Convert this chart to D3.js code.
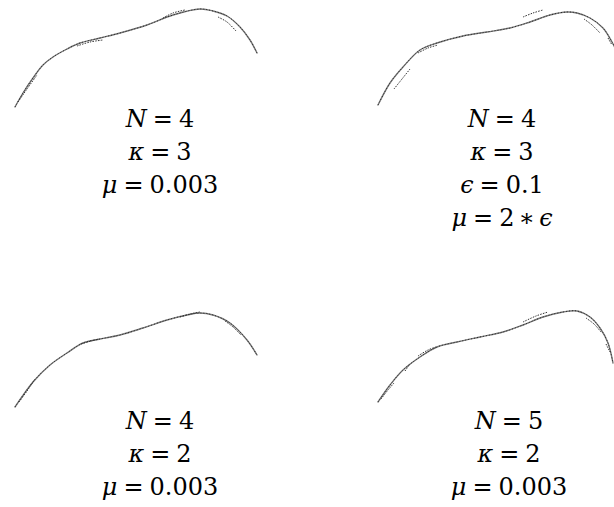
<!DOCTYPE html>
<html>
<head>
<meta charset="utf-8">
<script src="https://cdn.jsdelivr.net/npm/d3@7/dist/d3.min.js"></script>
<style>
  html, body { margin: 0; padding: 0; background: #fff; }
  svg { display: block; }
</style>
</head>
<body>
<svg id="chart" width="614" height="507"></svg>
<script>
// Trajectory traces, one per panel: [arc position, height]
const traceTL = [[0,0],[8,14],[18,29],[28,42],[38,50],[52,58],[65,64],[85,69],[105,74],[132,82],[158,92],[185,98],[198,96],[212,91],[225,80],[235,67],[242,54]];
const traceTR = [[0,0],[12,22],[25,38],[42,55],[59,62],[85,69],[109,73],[132,77],[152,83],[172,90],[189,93],[199,92],[212,87],[225,77],[234,63],[238,55]];
const traceBL = [[0,0],[18,25],[35,42],[52,54],[68,64],[85,68],[105,72],[128,79],[152,87],[172,92],[185,94],[198,92],[215,84],[232,67],[242,52]];
const traceBR = [[0,0],[12,17],[25,32],[42,45],[59,55],[79,60],[102,65],[125,70],[145,77],[165,85],[185,90],[199,91],[212,85],[222,74],[230,59],[235,39]];

// Secondary (repeated run) fragments lying next to each trace
const ghostsTL = [
  [[3,5],[12,18],[22,32]],
  [[62,61],[75,65],[88,67]],
  [[148,89],[158,94],[170,97]],
  [[203,90],[212,85],[221,76]]
];
const ghostsTR = [
  [[16,16],[24,26],[32,36]],
  [[40,52],[50,57],[60,60]],
  [[145,88],[155,92],[165,95]],
  [[206,86],[214,80],[222,72]],
  [[230,67],[234,60]]
];
const ghostsBL = [
  [[4,5],[12,16],[20,28]],
  [[66,63],[76,66],[84,68]],
  [[165,90],[175,93],[185,95]],
  [[210,86],[218,80],[226,72]]
];
const ghostsBR = [
  [[3,3],[10,12],[16,19]],
  [[27,31],[32,38]],
  [[40,46],[50,52],[58,55]],
  [[145,80],[158,86],[170,90]],
  [[208,84],[216,78],[223,70]],
  [[228,58],[232,50]]
];

// Parameter labels: each line is [symbol, right-hand side tokens]; token = [text, italic, gap]
const labelsTL = [
  ["N", [["4",0,1]]],
  ["κ", [["3",0,1]]],
  ["μ", [["0.003",0,1]]]
];
const labelsTR = [
  ["N", [["4",0,1]]],
  ["κ", [["3",0,1]]],
  ["ϵ", [["0.1",0,1]]],
  ["μ", [["2",0,1],["∗",0,0.7],["ϵ",1,0.7]]]
];
const labelsBL = [
  ["N", [["4",0,1]]],
  ["κ", [["2",0,1]]],
  ["μ", [["0.003",0,1]]]
];
const labelsBR = [
  ["N", [["5",0,1]]],
  ["κ", [["2",0,1]]],
  ["μ", [["0.003",0,1]]]
];

const panels = [
  {trace: traceTL, ghosts: ghostsTL, labels: labelsTL, ox: 15,  oy: 107, tx: 160, ty: 127},
  {trace: traceTR, ghosts: ghostsTR, labels: labelsTR, ox: 378, oy: 105, tx: 502, ty: 127},
  {trace: traceBL, ghosts: ghostsBL, labels: labelsBL, ox: 15,  oy: 407, tx: 160, ty: 429},
  {trace: traceBR, ghosts: ghostsBR, labels: labelsBR, ox: 378, oy: 402, tx: 509, ty: 429}
];

const svg = d3.select("#chart");
const lineGap = 33;
const fontSize = 24;
const space = 0.25 * fontSize;

panels.forEach(p => {
  const x = d3.scaleLinear().domain([0, 242]).range([p.ox, p.ox + 242]);
  const y = d3.scaleLinear().domain([0, 100]).range([p.oy, p.oy - 100]);
  const line = d3.line().x(d => x(d[0])).y(d => y(d[1])).curve(d3.curveCatmullRom.alpha(0.5));

  const g = svg.append("g");
  g.append("path")
    .attr("d", line(p.trace))
    .attr("fill", "none")
    .attr("stroke", "#777")
    .attr("stroke-width", 1.4)
    .attr("stroke-linecap", "round");
  g.append("path")
    .attr("d", line(p.trace))
    .attr("fill", "none")
    .attr("stroke", "#111")
    .attr("stroke-width", 0.8)
    .attr("stroke-dasharray", "1,2");

  g.selectAll("path.ghost")
    .data(p.ghosts)
    .join("path")
    .attr("class", "ghost")
    .attr("d", d => line(d))
    .attr("fill", "none")
    .attr("stroke", "#333")
    .attr("stroke-width", 1)
    .attr("stroke-dasharray", "1.5,1.2");

  const t = g.selectAll("text")
    .data(p.labels)
    .join("text")
    .attr("x", p.tx)
    .attr("y", (d, i) => p.ty + i * lineGap)
    .attr("text-anchor", "middle")
    .style("font-family", "'DejaVu Serif', serif")
    .attr("font-size", fontSize)
    .attr("fill", "#000");
  t.append("tspan").attr("font-style", "italic").text(d => d[0]);
  t.append("tspan").attr("dx", space).text("=");
  t.selectAll("tspan.rhs")
    .data(d => d[1])
    .join("tspan")
    .attr("class", "rhs")
    .attr("dx", d => d[2] * space)
    .attr("font-style", d => d[1] ? "italic" : "normal")
    .text(d => d[0]);
});
</script>
</body>
</html>
